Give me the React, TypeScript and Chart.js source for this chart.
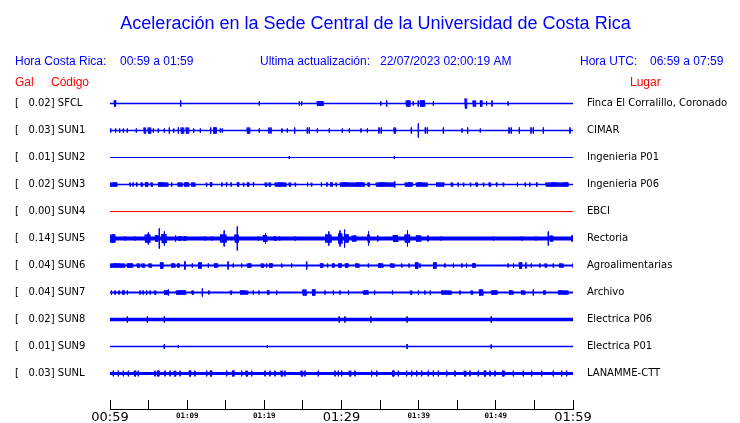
import React, { useEffect, useRef } from 'react';
import { Chart, registerables } from 'chart.js';

Chart.register(...registerables);

// ---------- text ----------
const TITLE = 'Aceleración en la Sede Central de la Universidad de Costa Rica';
const HEADER_LOCAL_LABEL = 'Hora Costa Rica:';
const HEADER_LOCAL_RANGE = '00:59 a 01:59';
const HEADER_UPDATE_LABEL = 'Ultima actualización:';
const HEADER_UPDATE_VALUE = '22/07/2023 02:00:19 AM';
const HEADER_UTC_LABEL = 'Hora UTC:';
const HEADER_UTC_RANGE = '06:59 a 07:59';
const COL_GAL = 'Gal';
const COL_CODE = 'Código';
const COL_PLACE = 'Lugar';

// ---------- categories ----------
const STATIONS = ['SFCL', 'SUN1', 'SUN2', 'SUN3', 'SUN4', 'SUN5', 'SUN6', 'SUN7', 'SUN8', 'SUN9', 'SUNL'];
const PEAK_GAL = ['0.02', '0.03', '0.01', '0.02', '0.00', '0.14', '0.04', '0.04', '0.02', '0.01', '0.03'];
const PLACES = [
  'Finca El Corralillo, Coronado', 'CIMAR', 'Ingenieria P01', 'Ingenieria P06', 'EBCI', 'Rectoria',
  'Agroalimentarias', 'Archivo', 'Electrica P06', 'Electrica P01', 'LANAMME-CTT',
];

// ---------- time axis (minutes after 00:59) ----------
const TIME_TICKS = [0, 5, 10, 15, 20, 25, 30, 35, 40, 45, 50, 55, 60];
const TIME_LABELS = ['00:59', '', '01:09', '', '01:19', '', '01:29', '', '01:39', '', '01:49', '', '01:59'];
const MAJOR_TIME_TICKS = [0, 30, 60];

// ---------- trace bursts: [minute, half amplitude, duration in minutes] ----------
type Burst = [number, number, number];
const SFCL_BURSTS: Burst[] = [[0.65,3,0.26],[9.16,3,0],[19.35,2,0],[24.54,2,0],[24.84,2,0],[27.2,2.5,0.78],[35.1,2,0],[35.85,3,0],[38.6,3,0.52],[39.3,2,0],[39.95,3,0],[40.5,3,0.65],[41.9,2,0],[46.1,5,0.26],[47.2,3,0.39],[48.1,3,0.26],[48.8,2,0],[49.5,3,0],[51.6,2,0]];
const SUN1_BURSTS: Burst[] = [[0.09,2,0],[0.73,2,0],[1.25,2,0],[1.73,2,0],[2.25,2,0],[3.41,2,0],[4.49,3,0.26],[5.1,3,0.39],[5.62,2,0],[6.26,2,0],[7.04,2,0],[7.69,3,0],[8.25,2,0],[8.86,3,0],[9.37,3,0.39],[10.02,3,0.39],[10.84,2,0],[11.71,2,0],[13.05,3,0],[13.6,3,0.39],[14.3,2,0],[14.56,2,0],[17.93,3,0.39],[19.35,2,0],[20.6,3,0],[20.86,3,0],[22.29,2,0],[22.98,2,0],[23.93,3,0],[25.57,3,0],[25.83,3,0],[26.87,2,0],[28.42,2,0],[30.11,2,0],[31.02,2,0],[32.53,2,0],[33.35,2,0],[34.86,3,0],[35.16,3,0],[36.89,3,0.26],[39.05,3,0],[39.96,7,0],[40.86,3,0],[41.12,3,0],[43.2,3,0],[45.62,2,0],[46.35,3,0],[47.99,2,0],[51.71,3,0],[52.0,3,0],[53.05,3,0],[54.56,3,0],[54.86,3,0],[56.16,3,0],[59.61,3,0]];
const SUN2_BURSTS: Burst[] = [[23.24,1.5,0],[36.85,1.5,0]];
const SUN3_BURSTS: Burst[] = [[0.43,2,0.9],[2.6,2,0.13],[3.0,2,0],[3.46,2,0.13],[4.1,2,0.26],[4.75,2,0.39],[5.4,2,0.26],[6.9,2,1.3],[8.0,2,0],[9.07,2,0.65],[9.94,2,0.65],[10.8,2,0.52],[12.5,2,0.13],[13.1,2,0.26],[14.5,2,0],[15.1,2,0.13],[15.7,2,0],[16.6,2,0.26],[17.3,2,0.13],[17.9,2,0.26],[18.6,2,0.13],[20.2,2,0.26],[20.7,2,0.26],[22.1,2,1.5],[23.3,2,0.26],[24.0,2,0.13],[25.6,2,0],[26.1,2,0.13],[27.4,2,0],[28.1,2,0.13],[28.7,2,0.26],[29.3,2,0.13],[31.4,2,3.2],[33.5,2,0.26],[35.6,2,2.3],[36.9,3,0],[38.7,2,1.0],[40.4,2,1.5],[42.8,2,1.0],[44.3,2,0.26],[45.1,2,0.13],[45.8,2,0.13],[46.7,2,0.13],[47.5,2,0.26],[48.4,2,0.13],[49.2,2,0.26],[50.1,2,0.13],[50.97,2,0.13],[52.8,2,0],[53.8,2,0.13],[54.4,2,0],[55.3,2,0.13],[57.9,2,2.9]];
const SUN4_BURSTS: Burst[] = [];
const SUN5_BURSTS: Burst[] = [[0.3,4,0.65],[1.94,2,0],[3.24,2,0],[4.84,4,0.65],[4.97,6,0],[6.05,3,0.39],[6.39,10,0],[7.0,4.5,0.65],[7.05,7,0],[8.5,3,0],[9.07,2,0.39],[9.7,2,0.39],[12.3,2,0],[13.2,2,0],[14.7,4,0.78],[14.8,8,0],[16.4,4,0.52],[16.5,12,0],[19.2,2,0],[20.1,3.5,0.52],[20.15,5,0],[21.4,2,0.39],[22.0,2,0],[24.0,2,0],[28.3,4,0.78],[28.35,7,0],[29.85,5,0.52],[29.8,8,0],[30.4,9,0],[30.7,4,0.39],[31.6,3,0.52],[33.5,7,0],[33.5,4,0.26],[34.7,3,0],[37.0,3.5,0.65],[38.5,4,0.65],[38.55,8,0],[40.0,3,0.65],[41.2,3,0],[42.9,2,0],[49.7,2,0],[53.4,2,0],[55.2,2,0],[56.8,7,0],[57.2,3,0.39],[60.0,3,0.39]];
const SUN6_BURSTS: Burst[] = [[0.95,2,1.95],[2.6,2,0.78],[3.67,2,0.39],[4.3,2,0.39],[5.2,2,0.39],[6.7,3,0.39],[8.2,2,0.52],[8.86,2,0.26],[9.7,4,0.13],[10.67,2,0],[11.66,3,0.39],[12.74,2,0],[13.74,2,0.52],[15.3,4,0],[15.98,2,0],[17.06,2,0],[18.0,2,0.52],[19.74,2,0.39],[20.3,2,0],[20.86,2,0.39],[22.25,2,0],[23.54,2,0],[25.49,4,0],[27.43,2,0.39],[28.2,2,0],[28.94,2,0.26],[29.8,2,0.39],[30.67,2,0.39],[32.05,2,0.52],[33.48,2,0],[35.08,2,0.65],[36.6,2,0.52],[37.8,2,0],[38.75,2,0],[39.74,3,0.39],[40.17,2,0],[42.1,3,0.39],[43.4,2,0],[44.5,2,0],[45.6,2,0],[46.2,2,0],[47.17,2,0.39],[51.6,2,0],[52.3,2,0],[53.2,3,0.39],[53.9,3,0],[54.6,2,0],[55.7,2,0],[56.46,2,0.26],[57.45,2,0],[58.5,2,0.52],[60.0,2,0]];
const SUN7_BURSTS: Burst[] = [[0.2,2,0],[0.65,2,0],[1.17,2,0],[1.73,2,0.26],[2.25,2,0],[3.9,2,0],[4.3,2,0],[4.75,2,0],[5.2,2,0],[5.83,2,0.26],[7.26,2,0.52],[7.56,3,0],[9.2,2,1.3],[10.7,2,0.26],[11.97,4,0],[12.83,2,0],[15.68,2,0.26],[17.37,2,1.0],[18.57,2,0],[19.3,2,0],[20.5,2,0.26],[21.6,2,0],[25.2,3,0.52],[26.4,3,0.39],[27.86,2,0],[28.94,2,0],[29.8,2,0],[30.9,2,0],[33.1,2,0.65],[34.3,2,0],[36.6,2,0],[39.0,2,0.26],[39.96,2,0],[40.8,2,0],[41.5,2,0],[43.6,2,1.3],[45.36,2,0],[46.87,2,0.26],[48.1,3,0.52],[49.76,2,0.78],[52.0,2,0.52],[53.56,2,0.52],[54.86,3,0],[56.3,2,0.26],[58.75,2,1.3]];
const SUN8_BURSTS: Burst[] = [[2.25,3,0],[4.84,3,0],[7.04,3,0],[29.7,3,0],[30.45,3,0],[33.8,3,0],[38.5,3,0],[49.4,3,0]];
const SUN9_BURSTS: Burst[] = [[7.04,2.5,0],[8.86,1.5,0],[20.4,1.5,0],[38.5,2.5,0],[49.4,2,0]];
const SUNL_BURSTS: Burst[] = [[0.43,2.8,0],[1.08,2.8,0],[1.73,2.8,0],[2.38,2.8,0],[3.24,2.8,0.26],[3.67,2.8,0],[5.83,2.8,0],[6.26,2.8,0.26],[7.13,2.8,0],[7.78,2.8,0],[8.42,2.8,0.26],[9.07,2.8,0],[10.37,2.8,0.26],[11.0,2.8,0],[12.53,2.8,0],[13.09,2.8,0.26],[15.12,2.8,0],[15.98,2.8,0.26],[17.06,2.8,0],[17.71,2.8,0.26],[18.36,2.8,0],[20.09,2.8,0],[20.73,2.8,0],[21.38,2.8,0],[22.25,2.8,0.26],[22.68,2.8,0],[24.84,2.8,0.26],[25.27,2.8,0],[27.0,2.8,0],[29.16,2.8,0],[29.59,2.8,0],[30.02,2.8,0],[31.1,2.8,0.26],[31.75,2.8,0],[33.9,2.8,0],[34.56,2.8,0],[36.72,2.8,0.26],[37.37,2.8,0],[38.44,2.8,0],[39.09,2.8,0],[39.74,2.8,0],[40.39,2.8,0],[41.25,2.8,0],[41.9,2.8,0],[42.55,2.8,0],[43.63,2.8,0],[44.71,2.8,0],[46.0,2.8,0.26],[46.65,2.8,0],[47.73,2.8,0],[48.6,2.8,0.26],[49.24,2.8,0],[49.89,2.8,0],[50.97,2.8,0.26],[52.27,2.8,0],[53.56,2.8,0],[54.64,2.8,0],[55.94,2.8,0],[57.45,2.8,0],[58.53,2.8,0],[59.18,2.8,0]];

const ALL_BURSTS: Burst[][] = [SFCL_BURSTS, SUN1_BURSTS, SUN2_BURSTS, SUN3_BURSTS, SUN4_BURSTS, SUN5_BURSTS, SUN6_BURSTS, SUN7_BURSTS, SUN8_BURSTS, SUN9_BURSTS, SUNL_BURSTS];

// ---------- styles ----------
const TRACE_COLORS = ['#0000ff', '#0000ff', '#0000ff', '#0000ff', '#ff0000', '#0000ff', '#0000ff', '#0000ff', '#0000ff', '#0000ff', '#0000ff'];
const NOISE_WIDTH = [1.3, 1.6, 1.2, 1.6, 1, 4, 1.8, 1.8, 3.5, 1.4, 3.2];
const Y_MAX = 310;
const TOP_BASE = 296.5;
const ROW_STEP = 27;
const BASES = STATIONS.map((_, i) => TOP_BASE - ROW_STEP * i);

function burstPoints(base: number, bursts: Burst[]) {
  const pts: { x: number; y: number | null }[] = [];
  for (const [t, amp, dur] of bursts) {
    if (dur <= 0) {
      pts.push({ x: t, y: base + amp }, { x: t, y: base - amp });
    } else {
      const n = Math.max(2, Math.round(dur / 0.07));
      for (let k = 0; k <= n; k++) {
        pts.push({ x: t - dur / 2 + (k * dur) / n, y: k % 2 ? base - amp : base + amp });
      }
    }
    pts.push({ x: t, y: null });
  }
  return pts;
}

const textPlugin = {
  id: 'seismoText',
  afterDraw(chart: any) {
    const ctx = chart.ctx as CanvasRenderingContext2D;
    const area = chart.chartArea;
    ctx.save();
    // axis line
    ctx.strokeStyle = '#000';
    ctx.lineWidth = 1;
    ctx.beginPath();
    ctx.moveTo(area.left, area.bottom + 9.5);
    ctx.lineTo(area.right + 1, area.bottom + 9.5);
    ctx.stroke();

    ctx.textBaseline = 'alphabetic';
    ctx.fillStyle = '#0000ff';
    ctx.font = '18px "Liberation Sans", Arial, sans-serif';
    ctx.textAlign = 'center';
    ctx.fillText(TITLE, 375.5, 29);

    ctx.textAlign = 'left';
    ctx.font = '12px "Liberation Sans", Arial, sans-serif';
    ctx.fillText(HEADER_LOCAL_LABEL, 15, 65);
    ctx.fillText(HEADER_LOCAL_RANGE, 120, 65);
    ctx.fillText(HEADER_UPDATE_LABEL, 260, 65);
    ctx.fillText(HEADER_UPDATE_VALUE, 380, 65);
    ctx.fillText(HEADER_UTC_LABEL, 580, 65);
    ctx.fillText(HEADER_UTC_RANGE, 650, 65);

    ctx.fillStyle = '#ff0000';
    ctx.fillText(COL_GAL, 15, 85.5);
    ctx.fillText(COL_CODE, 51, 85.5);
    ctx.fillText(COL_PLACE, 630, 85.5);
    ctx.restore();
  },
};

export default function App() {
  const ref = useRef<HTMLCanvasElement | null>(null);
  useEffect(() => {
    if (!ref.current) return;
    const datasets: any[] = [];
    STATIONS.forEach((code, i) => {
      const base = BASES[i];
      datasets.push({
        label: code + ' base',
        data: [{ x: 0, y: base }, { x: 60, y: base }],
        borderColor: TRACE_COLORS[i],
        borderWidth: NOISE_WIDTH[i],
        pointRadius: 0,
        yAxisID: 'y',
      });
      datasets.push({
        label: code,
        data: burstPoints(base, ALL_BURSTS[i]),
        borderColor: TRACE_COLORS[i],
        borderWidth: 1,
        pointRadius: 0,
        spanGaps: false,
        yAxisID: 'y',
      });
    });

    const rowTicks = (scale: any) => {
      scale.ticks = [...BASES].sort((a, b) => a - b).map((v) => ({ value: v }));
    };

    const chart = new Chart(ref.current, {
      type: 'line',
      data: { datasets },
      plugins: [textPlugin],
      options: {
        responsive: false,
        devicePixelRatio: 1,
        animation: false,
        events: [],
        layout: { padding: { top: 90, left: 15, right: 0, bottom: 0 } },
        plugins: { legend: { display: false }, tooltip: { enabled: false }, title: { display: false } },
        scales: {
          x: {
            type: 'linear',
            min: 0,
            max: 60,
            position: 'bottom',
            afterBuildTicks: (s: any) => {
              s.ticks = TIME_TICKS.map((v) => ({ value: v }));
            },
            afterFit: (s: any) => {
              s.height = 23;
            },
            grid: { display: true, drawOnChartArea: false, drawTicks: true, tickLength: 9, color: '#000', lineWidth: 1 },
            border: { display: false },
            ticks: {
              autoSkip: false,
              maxRotation: 0,
              minRotation: 0,
              padding: 0,
              color: '#000',
              font: (c: any) =>
                MAJOR_TIME_TICKS.includes(c.tick?.value)
                  ? { family: 'DejaVu Sans', size: 13, lineHeight: '18px' }
                  : { family: 'DejaVu Sans Mono', size: 7.5, weight: 'bold', lineHeight: '15px' },
              callback: (v: any) => TIME_LABELS[TIME_TICKS.indexOf(Number(v))] ?? '',
            },
          },
          y: {
            type: 'linear',
            min: 0,
            max: Y_MAX,
            position: 'left',
            afterBuildTicks: rowTicks,
            afterFit: (s: any) => {
              s.width = 95;
            },
            grid: { display: false, drawTicks: false },
            border: { display: false },
            ticks: {
              autoSkip: false,
              crossAlign: 'far',
              color: '#000',
              font: { family: 'DejaVu Sans', size: 10 },
              callback: (v: any) => {
                const i = BASES.indexOf(Number(v));
                return i < 0 ? '' : `[   ${PEAK_GAL[i]}] ${STATIONS[i]}`;
              },
            },
          },
          y2: {
            type: 'linear',
            display: true,
            min: 0,
            max: Y_MAX,
            position: 'right',
            afterBuildTicks: rowTicks,
            afterFit: (s: any) => {
              s.width = 167;
            },
            grid: { display: false, drawTicks: false },
            border: { display: false },
            ticks: {
              autoSkip: false,
              crossAlign: 'near',
              padding: 14,
              color: '#000',
              font: { family: 'DejaVu Sans', size: 10 },
              callback: (v: any) => {
                const i = BASES.indexOf(Number(v));
                return i < 0 ? '' : PLACES[i];
              },
            },
          },
        },
      } as any,
    });
    return () => chart.destroy();
  }, []);

  return (
    <div style={{ position: 'absolute', left: 0, top: 0, width: 740, height: 423, background: '#fff' }}>
      <canvas ref={ref} width={740} height={423} style={{ display: 'block' }} />
    </div>
  );
}
